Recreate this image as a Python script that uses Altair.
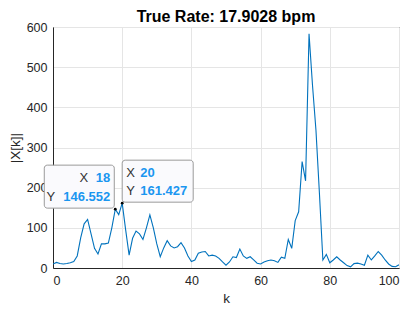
import altair as alt
import pandas as pd

k_values = list(range(101))
mag_values = [
    10, 14, 11, 10, 11, 13, 16, 30, 75, 110,
    121, 85, 49, 35, 60, 60, 62, 100, 146.552, 133,
    161.427, 95, 32, 74, 92, 85, 71, 100, 132, 100,
    60, 28, 50, 68, 55, 50, 53, 63, 50, 30,
    16, 20, 37, 40, 41, 30, 32, 30, 24, 15,
    7, 15, 28, 26, 47, 30, 24, 28, 20, 12,
    10, 15, 18, 20, 18, 14, 27, 24, 71, 49,
    118, 140, 265, 217, 583, 455, 343, 186, 20, 34,
    13, 20, 28, 20, 13, 6, 3, 11, 12, 10,
    7, 32, 20, 30, 41, 32, 20, 10, 4, 3,
    8,
]
tip_k = [18, 20]
tip_val = [146.552, 161.427]
title_text = "True Rate: 17.9028 bpm"
x_ticks = [0, 20, 40, 60, 80, 100]
y_ticks = [0, 100, 200, 300, 400, 500, 600]

FONT = "Liberation Sans"
df = pd.DataFrame({"k": k_values, "mag": mag_values})

xs = alt.Scale(domain=[0, 100], nice=False, zero=False)
ys = alt.Scale(domain=[0, 600], nice=False)

axis_style = dict(
    labelFont=FONT, titleFont=FONT, labelFontSize=12.5, titleFontSize=13.5,
    labelColor="#262626", titleColor="#262626", titleFontWeight="normal",
    domainColor="#262626", grid=True, gridColor="#E5E5E5", gridWidth=1,
    ticks=False, format="d",
)

line = alt.Chart(df).mark_line(color="#0072BD", strokeWidth=1.1, clip=True).encode(
    x=alt.X("k:Q", scale=xs, title="k",
            axis=alt.Axis(values=x_ticks, labelPadding=6, titlePadding=5, **axis_style)),
    y=alt.Y("mag:Q", scale=ys, title="|X[k]|",
            axis=alt.Axis(values=y_ticks, labelPadding=6, titlePadding=4, **axis_style)),
)

layers = [line]


def tip_layers(k, v, box, texts):
    d = pd.DataFrame({"k": [k], "v": [v]})
    base = alt.Chart(d)
    out = [
        base.mark_rect(
            fill="#FAFAFD", stroke="#9A9A9A", strokeWidth=1, cornerRadius=3,
            xOffset=box[0], x2Offset=box[1], yOffset=box[2], y2Offset=box[3],
        ).encode(x=alt.X("k:Q", scale=xs), x2="k:Q",
                 y=alt.Y("v:Q", scale=ys), y2="v:Q"),
        base.mark_point(filled=True, color="black", size=8, opacity=1).encode(
            x=alt.X("k:Q", scale=xs), y=alt.Y("v:Q", scale=ys)),
    ]
    for txt, dx, dy, align, bold in texts:
        out.append(
            base.mark_text(
                text=txt, dx=dx, dy=dy, align=align, baseline="middle",
                font=FONT, fontSize=13,
                fontWeight="bold" if bold else "normal",
                color="#1A96F0" if bold else "#333333",
            ).encode(x=alt.X("k:Q", scale=xs), y=alt.Y("v:Q", scale=ys))
        )
    return out


layers += tip_layers(
    tip_k[0], tip_val[0], (-71, -1, -44, -1),
    [("X", -27, -31, "right", False), (str(tip_k[0]), -5, -31, "right", True),
     ("Y", -60, -12, "right", False), (f"{tip_val[0]:.3f}", -5, -12, "right", True)],
)
layers += tip_layers(
    tip_k[1], tip_val[1], (0, 71, -43, -1),
    [("X", 4, -30, "left", False), (str(tip_k[1]), 18, -30, "left", True),
     ("Y", 4, -12, "left", False), (f"{tip_val[1]:.3f}", 18, -12, "left", True)],
)

chart = alt.layer(*layers).properties(
    width=346, height=241,
    background="white",
    title=alt.TitleParams(title_text, font=FONT, fontSize=16, fontWeight="bold",
                          color="black", anchor="middle", offset=0, dy=4),
    autosize=alt.AutoSizeParams(type="none"),
    padding={"left": 45, "top": 19, "right": 8, "bottom": 44},
).configure_view(
    stroke="#262626", strokeWidth=1,
)

chart.save("out.html", embed_options={"renderer": "svg", "actions": False})
